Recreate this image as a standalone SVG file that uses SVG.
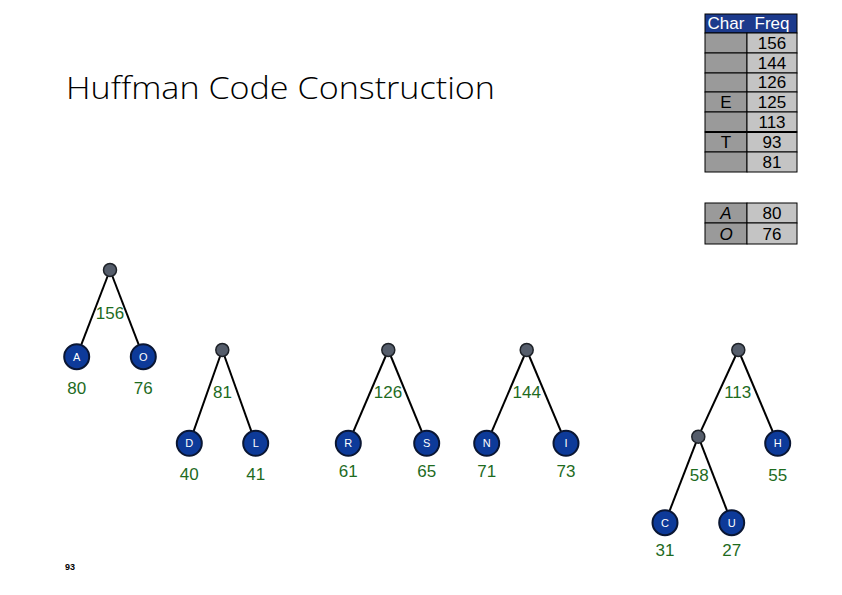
<svg xmlns="http://www.w3.org/2000/svg" width="842" height="595" viewBox="0 0 842 595">
<style>
.title{font-family:"Open Sans","Liberation Sans",sans-serif;font-weight:300;font-size:31px;fill:#000}
.edge{stroke:#000;stroke-width:2;fill:none}
.leaf{fill:#0d3a99;stroke:#0a1633;stroke-width:2}
.inner{fill:#555d6b;stroke:#1e2228;stroke-width:1.5}
.lt{font-family:"Liberation Sans",sans-serif;font-size:11px;fill:#fff;text-anchor:middle}
.num{font-family:"Liberation Sans",sans-serif;font-size:17px;fill:#1e6b1e;text-anchor:middle}
.hdr{font-family:"Liberation Sans",sans-serif;font-size:17px;fill:#fff;text-anchor:middle}
.tx{font-family:"Liberation Sans",sans-serif;font-size:17px;fill:#000;text-anchor:middle}
.cc{fill:#9a9a9a;stroke:#000;stroke-width:1}
.cf{fill:#c4c4c4;stroke:#000;stroke-width:1}
.pg{font-family:"Liberation Sans",sans-serif;font-size:9px;font-weight:bold;fill:#000}
</style>
<rect width="842" height="595" fill="#fff"/>
<text class="title" x="66" y="99" textLength="429" lengthAdjust="spacingAndGlyphs">Huffman Code Construction</text>

<g id="table">
<rect x="705" y="14" width="92" height="19" fill="#1c3a8c" stroke="#000" stroke-width="1"/>
<text class="hdr" x="726" y="29">Char</text>
<text class="hdr" x="772" y="29">Freq</text>
<rect class="cc" x="705" y="33" width="42" height="20"/><rect class="cf" x="747" y="33" width="50" height="20"/>
<rect class="cc" x="705" y="53" width="42" height="20"/><rect class="cf" x="747" y="53" width="50" height="20"/>
<rect class="cc" x="705" y="73" width="42" height="19"/><rect class="cf" x="747" y="73" width="50" height="19"/>
<rect class="cc" x="705" y="92" width="42" height="20"/><rect class="cf" x="747" y="92" width="50" height="20"/>
<rect class="cc" x="705" y="112" width="42" height="20"/><rect class="cf" x="747" y="112" width="50" height="20"/>
<rect class="cc" x="705" y="132" width="42" height="20"/><rect class="cf" x="747" y="132" width="50" height="20"/>
<rect class="cc" x="705" y="152" width="42" height="20"/><rect class="cf" x="747" y="152" width="50" height="20"/>
<line x1="705" y1="132" x2="797" y2="132" stroke="#000" stroke-width="2"/>
<text class="tx" x="772" y="49">156</text>
<text class="tx" x="772" y="69">144</text>
<text class="tx" x="772" y="88">126</text>
<text class="tx" x="726" y="108">E</text><text class="tx" x="772" y="108">125</text>
<text class="tx" x="772" y="128">113</text>
<text class="tx" x="726" y="148">T</text><text class="tx" x="772" y="148">93</text>
<text class="tx" x="772" y="168">81</text>
</g>
<g id="table2">
<rect class="cc" x="705" y="203" width="42" height="20"/><rect class="cf" x="747" y="203" width="50" height="20"/>
<rect class="cc" x="705" y="223" width="42" height="21"/><rect class="cf" x="747" y="223" width="50" height="21"/>
<text class="tx" x="726" y="219" font-style="italic">A</text><text class="tx" x="772" y="219">80</text>
<text class="tx" x="726" y="240" font-style="italic">O</text><text class="tx" x="772" y="240">76</text>
</g>

<g id="connectors">
<line class="edge" x1="110" y1="270" x2="76.7" y2="356.7"/>
<line class="edge" x1="110" y1="270" x2="143.3" y2="356.7"/>
<line class="edge" x1="222.3" y1="350" x2="189.3" y2="443.3"/>
<line class="edge" x1="222.3" y1="350" x2="255.7" y2="443.3"/>
<line class="edge" x1="388.3" y1="350" x2="348.3" y2="443.3"/>
<line class="edge" x1="388.3" y1="350" x2="426.7" y2="443.3"/>
<line class="edge" x1="526.7" y1="350" x2="486.7" y2="443.3"/>
<line class="edge" x1="526.7" y1="350" x2="566" y2="443.3"/>
<line class="edge" x1="738.3" y1="350" x2="698.3" y2="436.7"/>
<line class="edge" x1="738.3" y1="350" x2="777.7" y2="443.3"/>
<line class="edge" x1="698.3" y1="436.7" x2="665" y2="522.7"/>
<line class="edge" x1="698.3" y1="436.7" x2="731.7" y2="522.7"/>
</g>

<g id="n156"><circle class="inner" cx="110" cy="270" r="6.5"/><text class="num" x="110" y="319">156</text></g>
<g id="nA"><circle class="leaf" cx="76.7" cy="356.7" r="12.5"/><text class="lt" x="76.7" y="360.7">A</text><text class="num" x="76.7" y="394">80</text></g>
<g id="nO"><circle class="leaf" cx="143.3" cy="356.7" r="12.5"/><text class="lt" x="143.3" y="360.7">O</text><text class="num" x="143.3" y="394">76</text></g>

<g id="n81"><circle class="inner" cx="222.3" cy="350" r="6.5"/><text class="num" x="222.5" y="398">81</text></g>
<g id="nD"><circle class="leaf" cx="189.3" cy="443.3" r="12.5"/><text class="lt" x="189.3" y="447.3">D</text><text class="num" x="189.3" y="480">40</text></g>
<g id="nL"><circle class="leaf" cx="255.7" cy="443.3" r="12.5"/><text class="lt" x="255.7" y="447.3">L</text><text class="num" x="255.7" y="480">41</text></g>

<g id="n126"><circle class="inner" cx="388.3" cy="350" r="6.5"/><text class="num" x="388" y="398">126</text></g>
<g id="nR"><circle class="leaf" cx="348.3" cy="443.3" r="12.5"/><text class="lt" x="348.3" y="447.3">R</text><text class="num" x="348.3" y="477">61</text></g>
<g id="nS"><circle class="leaf" cx="426.7" cy="443.3" r="12.5"/><text class="lt" x="426.7" y="447.3">S</text><text class="num" x="426.7" y="477">65</text></g>

<g id="n144"><circle class="inner" cx="526.7" cy="350" r="6.5"/><text class="num" x="526.7" y="398">144</text></g>
<g id="nN"><circle class="leaf" cx="486.7" cy="443.3" r="12.5"/><text class="lt" x="486.7" y="447.3">N</text><text class="num" x="486.7" y="477">71</text></g>
<g id="nI"><circle class="leaf" cx="566" cy="443.3" r="12.5"/><text class="lt" x="566" y="447.3">I</text><text class="num" x="566" y="477">73</text></g>

<g id="n113"><circle class="inner" cx="738.3" cy="350" r="6.5"/><text class="num" x="737.7" y="398">113</text></g>
<g id="n58"><circle class="inner" cx="698.3" cy="436.7" r="6.5"/><text class="num" x="699.3" y="481">58</text></g>
<g id="nH"><circle class="leaf" cx="777.7" cy="443.3" r="12.5"/><text class="lt" x="777.7" y="447.3">H</text><text class="num" x="777.7" y="481">55</text></g>
<g id="nC"><circle class="leaf" cx="665" cy="522.7" r="12.5"/><text class="lt" x="665" y="526.7">C</text><text class="num" x="665" y="556">31</text></g>
<g id="nU"><circle class="leaf" cx="731.7" cy="522.7" r="12.5"/><text class="lt" x="731.7" y="526.7">U</text><text class="num" x="731.7" y="556">27</text></g>

<text class="pg" x="65" y="570">93</text>
</svg>
